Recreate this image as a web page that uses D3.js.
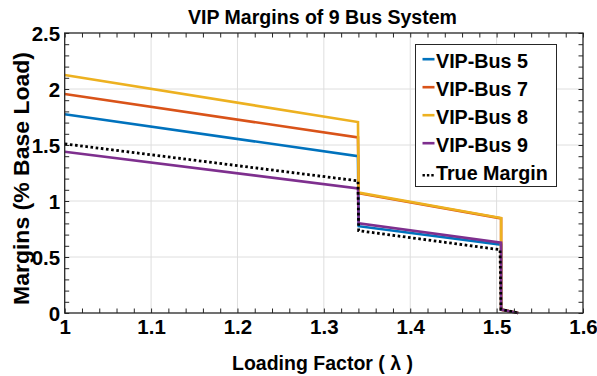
<!DOCTYPE html>
<html>
<head>
<meta charset="utf-8">
<script src="https://cdn.jsdelivr.net/npm/d3@7"></script>
<style>
  html, body { margin: 0; padding: 0; background: #fff; }
  svg { display: block; }
  text { font-family: "Liberation Sans", Arial, Helvetica, sans-serif; font-weight: bold; fill: #000; }
</style>
</head>
<body>
<svg id="chart" width="597" height="376"></svg>
<script>
// ---- Data ----
const seriesNames = ["VIP-Bus 5", "VIP-Bus 7", "VIP-Bus 8", "VIP-Bus 9", "True Margin"];
const bus5X = [1.0, 1.3395, 1.3403, 1.5052, 1.5052, 1.525];
const bus5Y = [1.775, 1.40, 0.775, 0.61, 0.03, 0.0];
const bus7X = [1.0, 1.3395, 1.3403, 1.5052, 1.5052, 1.525];
const bus7Y = [1.955, 1.568, 1.07, 0.845, 0.03, 0.0];
const bus8X = [1.0, 1.3395, 1.3403, 1.5052, 1.5052, 1.525];
const bus8Y = [2.125, 1.705, 1.075, 0.848, 0.03, 0.0];
const bus9X = [1.0, 1.3395, 1.3403, 1.5052, 1.5052, 1.525];
const bus9Y = [1.44, 1.113, 0.80, 0.628, 0.03, 0.0];
const trueX = [1.0, 1.3395, 1.3403, 1.504, 1.505, 1.525];
const trueY = [1.51, 1.18, 0.735, 0.565, 0.033, 0.0];
const xTicks = [1, 1.1, 1.2, 1.3, 1.4, 1.5, 1.6];
const yTicks = [0, 0.5, 1, 1.5, 2, 2.5];
const xTickLabels = ["1", "1.1", "1.2", "1.3", "1.4", "1.5", "1.6"];
const yTickLabels = ["0", "0.5", "1", "1.5", "2", "2.5"];
const titleText = "VIP Margins of 9 Bus System";
const xLabelText = "Loading Factor ( \u03bb )";
const yLabelText = "Margins (% Base Load)";

// ---- Layout / style ----
const colors = ["#0072BD", "#D95319", "#EDB120", "#7E2F8E", "#000000"];
const L = 64.7, R = 583, T = 33, B = 313;
const svg = d3.select("#chart");
const x = d3.scaleLinear().domain([1, 1.6]).range([L, R]);
const y = d3.scaleLinear().domain([0, 2.5]).range([B, T]);

// gridlines
const grid = svg.append("g").attr("stroke", "#dedede").attr("stroke-width", 1);
xTicks.slice(1, -1).forEach(v => grid.append("line")
  .attr("x1", x(v)).attr("x2", x(v)).attr("y1", T).attr("y2", B));
yTicks.slice(1, -1).forEach(v => grid.append("line")
  .attr("x1", L).attr("x2", R).attr("y1", y(v)).attr("y2", y(v)));

// data lines
const xs = [bus5X, bus7X, bus8X, bus9X, trueX];
const ys = [bus5Y, bus7Y, bus8Y, bus9Y, trueY];
const line = d3.line().x(d => x(d[0])).y(d => y(d[1]));
const plot = svg.append("g");
xs.forEach((xa, i) => {
  const pts = xa.map((v, j) => [v, ys[i][j]]);
  const p = plot.append("path").datum(pts)
    .attr("d", line).attr("fill", "none")
    .attr("stroke", colors[i]).attr("stroke-width", 2.6)
    .attr("stroke-linejoin", "miter");
  if (i === 4) p.attr("stroke-dasharray", "2.6,2.6").attr("stroke-width", 2.8);
});

// axes with inward ticks (major + minor) on all 4 sides
const axisG = svg.append("g");
const xMinor = d3.range(1, 1.6001, 0.02);
const yMinor = d3.range(0, 2.5001, 0.1);
function addAxis(axisGen, tr, scaleTicks, size) {
  const g = axisG.append("g").attr("transform", tr)
    .call(axisGen.tickValues(scaleTicks).tickSize(size).tickFormat(""));
  g.select(".domain").remove();
  g.selectAll(".tick line").attr("stroke", "#262626").attr("stroke-width", 1);
  return g;
}
addAxis(d3.axisBottom(x), `translate(0,${B})`, xMinor, -4.5);
addAxis(d3.axisTop(x), `translate(0,${T})`, xMinor, -4.5);
addAxis(d3.axisLeft(y), `translate(${L},0)`, yMinor, -4.5);
addAxis(d3.axisRight(y), `translate(${R},0)`, yMinor, -4.5);
axisG.append("rect").attr("x", L).attr("y", T).attr("width", R - L).attr("height", B - T)
  .attr("fill", "none").attr("stroke", "#262626").attr("stroke-width", 1.3);

// tick labels via axes
const xl = svg.append("g").attr("transform", `translate(0,${B})`)
  .call(d3.axisBottom(x).tickValues(xTicks).tickSize(0).tickPadding(0)
    .tickFormat((d, i) => xTickLabels[i]));
xl.select(".domain").remove();
xl.selectAll("text").attr("font-size", 20.5).attr("dy", null).attr("y", 20.5)
  .style("font-family", "'Liberation Sans', Arial, sans-serif").style("font-weight", "bold").attr("fill", "#000");
const yl = svg.append("g").attr("transform", `translate(${L},0)`)
  .call(d3.axisLeft(y).tickValues(yTicks).tickSize(0).tickPadding(0)
    .tickFormat((d, i) => yTickLabels[i]));
yl.select(".domain").remove();
yl.selectAll("text").attr("font-size", 20.5).attr("x", -4.5).attr("dy", "0.36em")
  .style("font-family", "'Liberation Sans', Arial, sans-serif").style("font-weight", "bold").attr("fill", "#000");

// title & labels
svg.append("text").attr("x", 322.5).attr("y", 23.5).attr("text-anchor", "middle")
  .attr("font-size", 19.5).attr("textLength", 269).attr("lengthAdjust", "spacingAndGlyphs")
  .text(titleText);
svg.append("text").attr("x", 322.5).attr("y", 370).attr("text-anchor", "middle")
  .attr("font-size", 20.5).attr("textLength", 181).attr("lengthAdjust", "spacingAndGlyphs")
  .text(xLabelText);
svg.append("text").attr("transform", "translate(28.5,178.5) rotate(-90)").attr("text-anchor", "middle")
  .attr("font-size", 21.5).attr("textLength", 253).attr("lengthAdjust", "spacingAndGlyphs")
  .text(yLabelText);

// legend
const lg = svg.append("g");
lg.append("rect").attr("x", 415.5).attr("y", 44.5).attr("width", 141).attr("height", 142)
  .attr("fill", "#fff").attr("stroke", "#262626").attr("stroke-width", 1);
const legendWidths = [92, 92, 92, 92, 111.7];
seriesNames.forEach((name, i) => {
  const by = 67.7 + i * 28;
  const ly = by - 8.5;
  const ln = lg.append("line").attr("x1", 422.5).attr("x2", 434.5).attr("y1", ly).attr("y2", ly)
    .attr("stroke", colors[i]).attr("stroke-width", 2.6);
  if (i === 4) ln.attr("stroke-dasharray", "2.4,2").attr("stroke-width", 2.6).attr("y1", by - 4.5).attr("y2", by - 4.5);
  lg.append("text").attr("x", 436).attr("y", by).attr("font-size", 19.5)
    .attr("textLength", legendWidths[i]).attr("lengthAdjust", "spacingAndGlyphs").text(name);
});
</script>
</body>
</html>
